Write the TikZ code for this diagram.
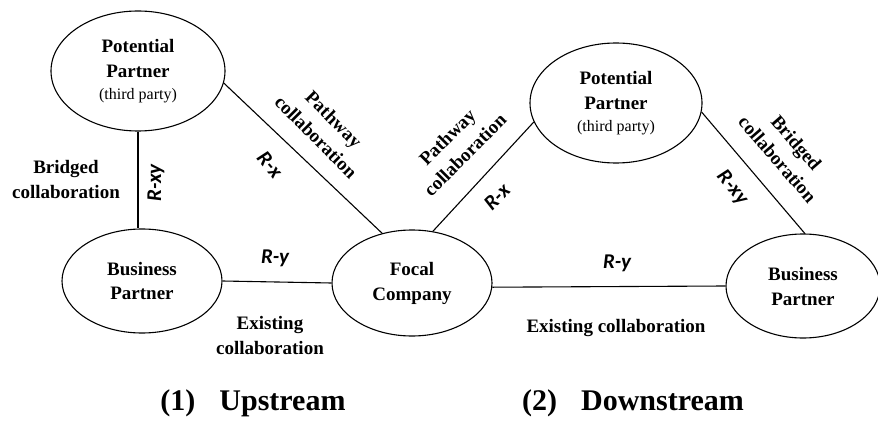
\documentclass[tikz,border=0pt]{standalone}
\usepackage{fontspec}
\setmainfont{Liberation Serif}
\newfontfamily\relfont{Carlito}
\usetikzlibrary{shapes.geometric}
\begin{document}
\begin{tikzpicture}[x=1pt,y=1pt,
  party/.style={ellipse,draw,line width=1.1pt,inner sep=0pt,align=center,
    font=\bfseries\fontsize{19}{25}\selectfont},
  collab/.style={align=center,font=\bfseries\fontsize{19}{25}\selectfont},
  rel/.style={font=\relfont\bfseries\itshape\fontsize{21}{24}\selectfont},
  heading/.style={font=\bfseries\fontsize{30}{32}\selectfont},
  link/.style={line width=1.1pt}]
\useasboundingbox (0,0) rectangle (878,421);

\node[party,minimum width=174,minimum height=120] (ppL) at (138,350)
  {Potential\\Partner\\[-3pt]{\normalfont\fontsize{16}{20}\selectfont(third party)}};
\node[party,minimum width=160,minimum height=104] (bpL) at (142,140) {Business\\Partner};
\node[party,minimum width=160,minimum height=106] (focal) at (412,138) {Focal\\Company};
\node[party,minimum width=172,minimum height=120] (ppR) at (616,318)
  {Potential\\Partner\\[-3pt]{\normalfont\fontsize{16}{20}\selectfont(third party)}};
\node[party,minimum width=154,minimum height=104] (bpR) at (803,135) {Business\\Partner};

\draw[link] (ppL.south) -- (ppL.south |- bpL.north);
\draw[link] (bpL.east) -- (focal.west);
\draw[link] (ppL.-8) -- (focal.121);
\draw[link] (focal.68) -- (ppR.193);
\draw[link] (focal.-3) -- (bpR.west);
\draw[link] (ppR.-6) -- (bpR.88);

\node[collab] (bridgedL) at (66,241) {Bridged\\collaboration};
\node[rel,rotate=90] (rxyL) at (156,238) {R-xy};
\node[rel,rotate=-50] (rxL) at (270,256) {R-x};
\node[collab,rotate=-45] (pathL) at (325,293) {Pathway\\collaboration};
\node[rel] (ryL) at (275,163) {R-y};
\node[collab] (existL) at (270,86) {Existing\\collaboration};

\node[collab,rotate=45] (pathR) at (456,275) {Pathway\\collaboration};
\node[rel,rotate=45] (rxR) at (497,224) {R-x};
\node[rel,rotate=-50] (rxyR) at (732,233) {R-xy};
\node[collab,rotate=-49] (bridgedR) at (787,270) {Bridged\\collaboration};
\node[rel] (ryR) at (617,158) {R-y};
\node[collab] (existR) at (616,93) {Existing collaboration};

\node[heading] (up) at (253,18) {(1)\hspace{0.8em}Upstream};
\node[heading] (down) at (633,18) {(2)\hspace{0.8em}Downstream};
\end{tikzpicture}
\end{document}
